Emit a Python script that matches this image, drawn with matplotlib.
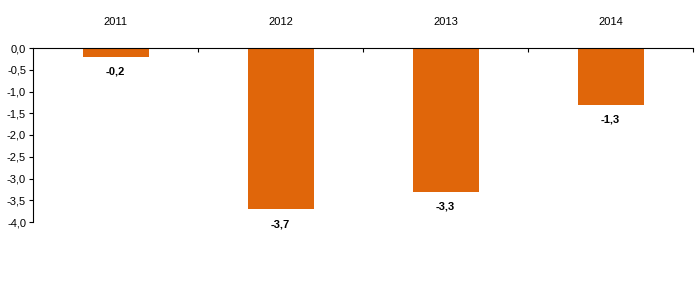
import matplotlib
matplotlib.use("Agg")
import matplotlib.pyplot as plt
import matplotlib.transforms as mtransforms

years = ["2011", "2012", "2013", "2014"]
values = [-0.2, -3.7, -3.3, -1.3]
yticks = [0.0, -0.5, -1.0, -1.5, -2.0, -2.5, -3.0, -3.5, -4.0]
ytick_labels = ["0,0", "-0,5", "-1,0", "-1,5", "-2,0", "-2,5", "-3,0", "-3,5", "-4,0"]

plt.rcParams['font.family'] = ['Liberation Sans', 'DejaVu Sans']

fig = plt.figure(figsize=(7, 3), dpi=100)
ax = fig.add_axes([33/700, 1-222/300, 660/700, 174/300])

x = list(range(len(years)))
ax.bar(x, values, width=0.4, color="#E0660A")
ax.set_xlim(-0.5, len(years)-0.5)
ax.set_ylim(-4.0, 0.0)
ax.set_yticks(yticks)
ax.set_yticklabels(ytick_labels, fontsize=8)
ax.tick_params(axis='y', direction='out', length=3, width=0.8, pad=2)

ax.xaxis.set_ticks_position('top')
ax.set_xticks([i + 0.5 for i in x])
ax.set_xticklabels([])
ax.tick_params(axis='x', direction='in', length=3, width=0.8)

for s in ['right', 'bottom']:
    ax.spines[s].set_visible(False)
for s in ['left', 'top']:
    ax.spines[s].set_linewidth(0.8)

trans = mtransforms.blended_transform_factory(ax.transData, ax.transAxes)
for i, yr in enumerate(years):
    ax.text(i, 1.0 + 26/174, yr, transform=trans, ha='center', va='center', fontsize=8)

for i, v in enumerate(values):
    ax.annotate(f"{v:.1f}".replace(".", ","), (i, v), xytext=(0, -11), textcoords='offset points',
                ha='center', va='center', fontsize=8, fontweight='bold')

fig.savefig("out.png", dpi=100)
